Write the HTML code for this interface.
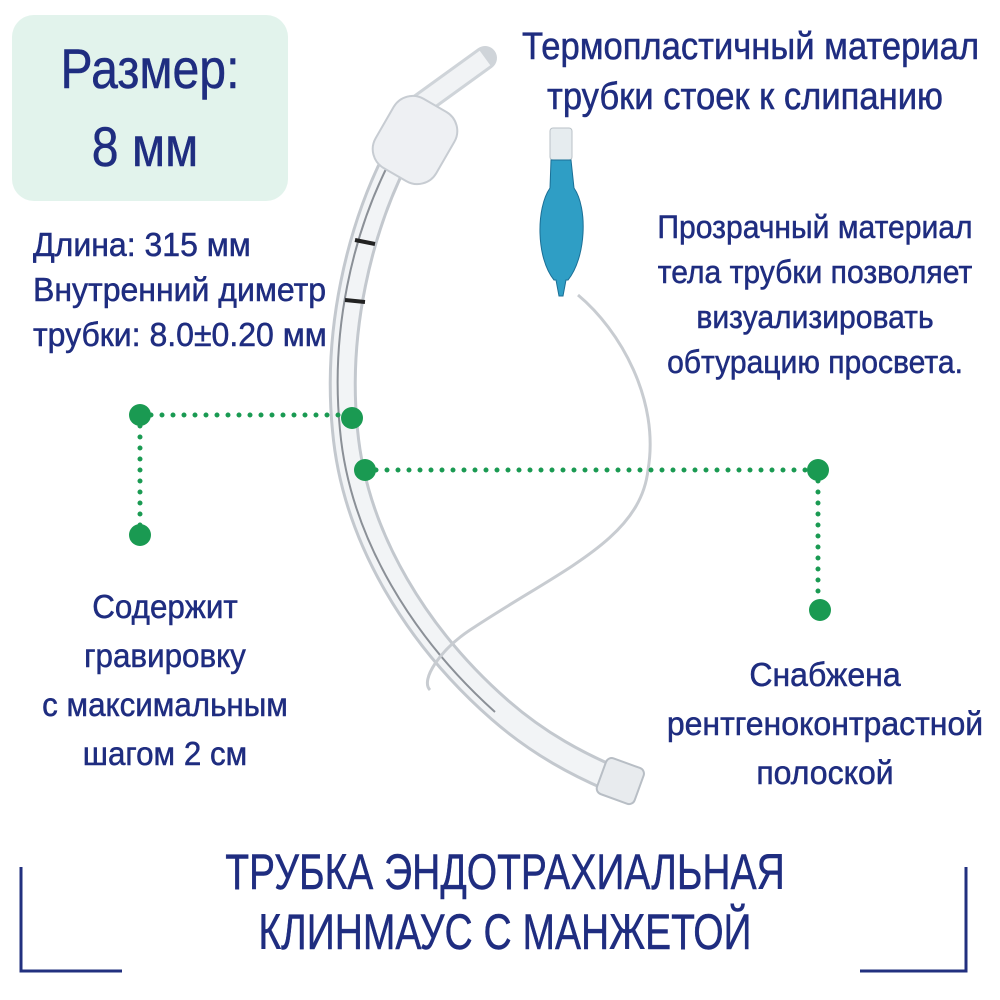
<!DOCTYPE html>
<html><head><meta charset="utf-8"><style>
body{margin:0;width:1000px;height:1000px;background:#fff;position:relative;overflow:hidden;font-family:"Liberation Sans",sans-serif;color:#1f2d80}
.t{position:absolute;white-space:nowrap;text-align:center;-webkit-text-stroke:0.5px #1f2d80}
.box{position:absolute;left:12px;top:15px;width:276px;height:186px;border-radius:22px;background:#e2f3ec}
</style></head><body>
<div class="box"></div>
<div class="t" style="left:12px;width:276px;top:38px;font-size:56px;line-height:62px;transform:scaleX(0.86)">Размер:</div>
<div class="t" style="left:7px;width:276px;top:116px;font-size:56px;line-height:62px;transform:scaleX(0.86)">8 мм</div>
<div class="t" style="left:500px;width:490px;top:22px;font-size:38px;line-height:50px;transform:scaleX(0.91)">Термопластичный материал<br>трубки стоек к слипанию</div>
<div class="t" style="left:33px;top:222px;font-size:33px;line-height:45px;text-align:left;transform:scaleX(0.97);transform-origin:left">Длина: 315 мм<br>Внутренний диметр<br>трубки: 8.0±0.20 мм</div>
<div class="t" style="left:640px;width:350px;top:205px;font-size:32px;line-height:45px;transform:scaleX(0.94)">Прозрачный материал<br>тела трубки позволяет<br>визуализировать<br>обтурацию просвета.</div>
<div class="t" style="left:0;width:330px;top:582px;font-size:33px;line-height:49px;transform:scaleX(0.95)">Содержит<br>гравировку<br>с максимальным<br>шагом 2 см</div>
<div class="t" style="left:660px;width:330px;top:650px;font-size:33px;line-height:49px;transform:scaleX(0.97)">Снабжена<br>рентгеноконтрастной<br>полоской</div>
<div class="t" style="left:100px;width:810px;top:842px;font-size:50px;line-height:60px;transform:scaleX(0.78)">ТРУБКА ЭНДОТРАХИАЛЬНАЯ<br>КЛИНМАУС С МАНЖЕТОЙ</div>
<svg width="1000" height="1000" style="position:absolute;left:0;top:0">
<g stroke="#22307f" stroke-width="3" fill="none">
<path d="M21 867V971H122"/><path d="M966 867V971H860"/>
</g>
<path d="M395 160C360 230 335 330 345 430C355 540 420 640 500 710C540 745 580 765 610 778" stroke="#c3c8ce" stroke-width="28" fill="none" stroke-linecap="round"/>
<path d="M395 160C360 230 335 330 345 430C355 540 420 640 500 710C540 745 580 765 610 778" stroke="#f2f4f6" stroke-width="22" fill="none"/>
<path d="M388 165C353 235 330 330 340 430C350 540 415 640 495 712" stroke="#8b9097" stroke-width="2" fill="none"/>
<path d="M485 58L420 105" stroke="#cfd4d9" stroke-width="24" stroke-linecap="round"/>
<path d="M485 58L420 105" stroke="#f1f3f5" stroke-width="18"/>
<rect x="380" y="100" width="70" height="80" rx="22" fill="#eef0f3" stroke="#c7ccd2" stroke-width="2" transform="rotate(30 415 140)"/>
<rect x="600" y="762" width="40" height="38" rx="6" fill="#e8ebee" stroke="#b8bec5" stroke-width="2" transform="rotate(20 620 782)"/>
<path d="M355 240l20 4M345 300l20 2" stroke="#222" stroke-width="4"/>
<path d="M578 295C620 330 660 400 648 470C640 540 560 570 470 630C440 650 420 680 430 690" stroke="#c8ccd1" stroke-width="3" fill="none"/>
<rect x="550" y="128" width="22" height="32" rx="3" fill="#e6ecef" stroke="#b9c1c7"/>
<path d="M551 160h20l3 28c14 20 12 70-6 92h-2l-3 16h-4l-3-16h-2c-18-22-18-72-4-92z" fill="#2f9ec5" stroke="#1b6f96"/>
<g stroke="#1a9a52" stroke-width="5" stroke-dasharray="0 11" stroke-linecap="round" fill="none">
<path d="M140 415H355"/><path d="M140 415V535"/>
<path d="M365 470H818"/><path d="M818 470V610"/>
</g>
<g fill="#1a9a52">
<circle cx="140" cy="415" r="11"/><circle cx="140" cy="535" r="11"/>
<circle cx="352" cy="418" r="11"/><circle cx="365" cy="470" r="11"/>
<circle cx="818" cy="470" r="11"/><circle cx="820" cy="610" r="11"/>
</g>
</svg>
</body></html>
